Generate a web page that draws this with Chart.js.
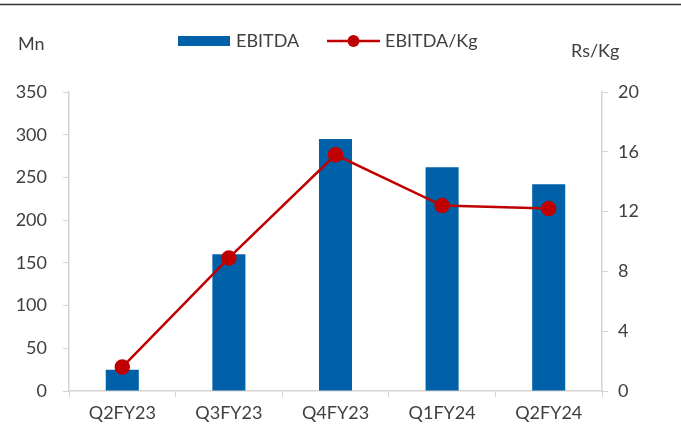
<!DOCTYPE html>
<html>
<head>
<meta charset="utf-8">
<script src="https://cdn.jsdelivr.net/npm/chart.js@4.4.1/dist/chart.umd.min.js"></script>
<style>
  html, body { margin: 0; padding: 0; background: #ffffff; }
  #wrap { width: 681px; height: 430px; position: relative; }
</style>
</head>
<body>
<div id="wrap"><canvas id="c" width="681" height="430"></canvas></div>
<script>
// Quarterly EBITDA (Rs Mn) and EBITDA per kg (Rs/Kg)
const quarters = ['Q2FY23', 'Q3FY23', 'Q4FY23', 'Q1FY24', 'Q2FY24'];
const ebitda = [25, 160, 295, 262, 242];
const ebitdaPerKg = [1.6, 8.9, 15.8, 12.4, 12.2];
const leftTicks = [0, 50, 100, 150, 200, 250, 300, 350];
const rightTicks = [0, 4, 8, 12, 16, 20];

const BLUE = '#0061A8';
const RED = '#C00000';
const TEXT = '#404040';
const AXIS = '#d4d4d4';
const FONT = 'Lato, "Open Sans", sans-serif';
const FONT_SIZE = 18;

// Header rule, unit captions and the legend row
const decorations = {
  id: 'decorations',
  afterDraw(chart) {
    const ctx = chart.ctx;
    const bars = chart.data.datasets.find(d => d.type === 'bar');
    const line = chart.data.datasets.find(d => d.type === 'line');
    ctx.save();
    ctx.strokeStyle = '#333333';
    ctx.lineWidth = 1.5;
    ctx.beginPath();
    ctx.moveTo(0, 4.5);
    ctx.lineTo(681, 4.5);
    ctx.stroke();

    ctx.fillStyle = TEXT;
    ctx.font = FONT_SIZE + 'px ' + FONT;
    ctx.textBaseline = 'middle';
    ctx.textAlign = 'left';
    ctx.fillText('Mn', 18, 44);
    ctx.fillText('Rs/Kg', 571, 51);

    ctx.fillStyle = bars.backgroundColor;
    ctx.fillRect(178, 36, 52, 10);
    ctx.fillStyle = TEXT;
    ctx.fillText(bars.label, 236, 41);

    ctx.strokeStyle = line.borderColor;
    ctx.lineWidth = 2.5;
    ctx.beginPath();
    ctx.moveTo(327, 41);
    ctx.lineTo(380, 41);
    ctx.stroke();
    ctx.fillStyle = line.pointBackgroundColor;
    ctx.beginPath();
    ctx.arc(353.5, 41, 6, 0, Math.PI * 2);
    ctx.fill();
    ctx.fillStyle = TEXT;
    ctx.fillText(line.label, 385, 41);
    ctx.restore();
  }
};

new Chart(document.getElementById('c'), {
  data: {
    labels: quarters,
    datasets: [
      {
        type: 'line',
        label: 'EBITDA/Kg',
        data: ebitdaPerKg,
        yAxisID: 'y1',
        borderColor: RED,
        borderWidth: 2.5,
        pointBackgroundColor: RED,
        pointBorderColor: RED,
        pointRadius: 6.5,
        pointHoverRadius: 6.5,
        tension: 0,
        order: 0
      },
      {
        type: 'bar',
        label: 'EBITDA',
        data: ebitda,
        yAxisID: 'y',
        backgroundColor: BLUE,
        borderWidth: 0,
        barPercentage: 0.62,
        categoryPercentage: 0.5,
        order: 1
      }
    ]
  },
  options: {
    responsive: false,
    animation: false,
    layout: { padding: { top: 92, left: 0, right: 0, bottom: 0 } },
    plugins: { legend: { display: false }, tooltip: { enabled: false } },
    scales: {
      x: {
        offset: true,
        grid: { offset: true, drawOnChartArea: false, drawTicks: true, tickLength: 6, color: AXIS },
        border: { color: AXIS, width: 1.5 },
        ticks: { color: TEXT, font: { family: FONT, size: FONT_SIZE }, padding: 5 },
        afterFit(s) { s.height = 39; }
      },
      y: {
        position: 'left',
        min: 0, max: 350,
        afterBuildTicks(s) { s.ticks = leftTicks.map(v => ({ value: v })); },
        grid: { drawOnChartArea: false, drawTicks: true, tickLength: 6, color: AXIS },
        border: { color: AXIS, width: 1.5 },
        ticks: { color: TEXT, font: { family: FONT, size: FONT_SIZE }, padding: 16 },
        afterFit(s) { s.width = 69; }
      },
      y1: {
        position: 'right',
        min: 0, max: 20,
        afterBuildTicks(s) { s.ticks = rightTicks.map(v => ({ value: v })); },
        grid: { drawOnChartArea: false, drawTicks: true, tickLength: 6, color: AXIS },
        border: { color: AXIS, width: 1.5 },
        ticks: { color: TEXT, font: { family: FONT, size: FONT_SIZE }, padding: 10 },
        afterFit(s) { s.width = 79; }
      }
    }
  },
  plugins: [decorations]
});
</script>
</body>
</html>
